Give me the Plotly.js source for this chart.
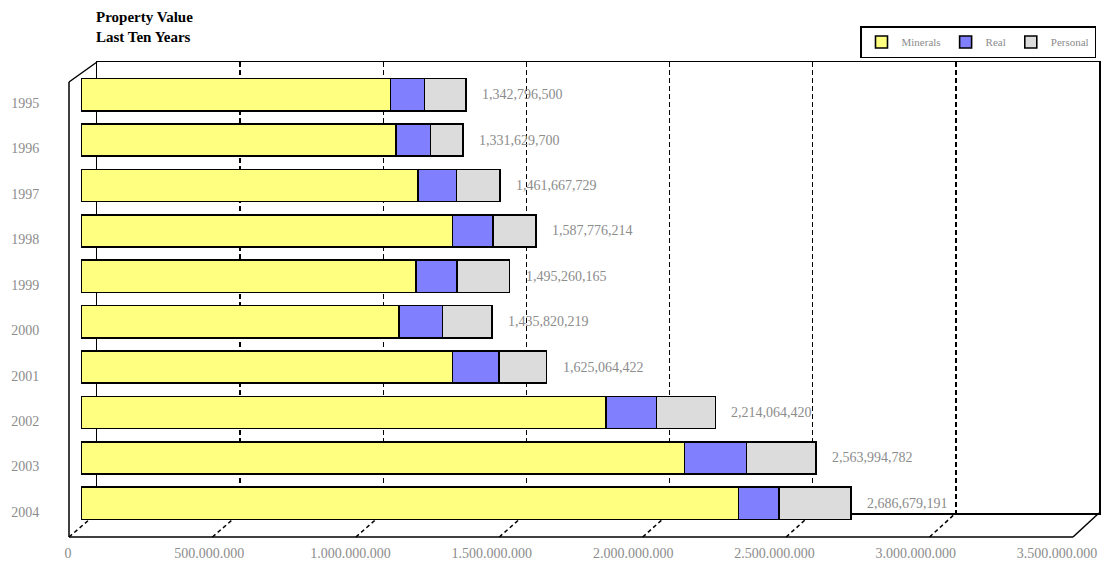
<!DOCTYPE html>
<html>
<head>
<meta charset="utf-8">
<script src="https://cdn.plot.ly/plotly-3.0.1.min.js"></script>
<style>html,body{margin:0;padding:0;background:#fff;}#chart{width:1113px;height:561px;}</style>
</head>
<body>
<div id="chart"></div>
<script>
// ---- data ----
const years = ['1995','1996','1997','1998','1999','2000','2001','2002','2003','2004'];
const minerals = [1080000000, 1100000000, 1177000000, 1296000000, 1170000000, 1109000000, 1296000000, 1832000000, 2106000000, 2294000000];
const real     = [ 119000000,  120000000,  133000000,  141000000,  141000000,  153000000,  162000000,  176000000,  216000000,  141000000];
const personal = [ 144000000,  112000000,  152000000,  151000000,  184000000,  173000000,  167000000,  206000000,  242000000,  252000000];
const totals   = [1342796500, 1331629700, 1461667729, 1587776214, 1495260165, 1435820219, 1625064422, 2214064420, 2563994782, 2686679191];
const totalLabels = ['1,342,796,500','1,331,629,700','1,461,667,729','1,587,776,214','1,495,260,165','1,435,820,219','1,625,064,422','2,214,064,420','2,563,994,782','2,686,679,191'];
const tickValues = [0, 500000000, 1000000000, 1500000000, 2000000000, 2500000000, 3000000000, 3500000000];
const tickLabels = ['0','500.000.000','1.000.000.000','1.500.000.000','2.000.000.000','2.500.000.000','3.000.000.000','3.500.000.000'];
const seriesNames = ['Minerals','Real','Personal'];
const seriesColors = ['#FFFF80','#8080FF','#DCDCDC'];
const xMax = 3500000000;

// ---- layout helpers (pixel -> paper) ----
const L = 60, R = 13, T = 62, B = 24, W = 1113, H = 561;
const PW = W - L - R, PH = H - T - B;
const px = v => (v - L) / PW;
const py = v => (H - B - v) / PH;

const serif = 'Liberation Serif, Times New Roman, serif';
const grey = '#8c8c8c';

const seriesData = [minerals, real, personal];
const traces = seriesData.map((vals, i) => ({
  type: 'bar', orientation: 'h', name: seriesNames[i],
  x: vals, y: years, xaxis: 'x2', yaxis: 'y2',
  marker: {color: seriesColors[i], line: {color: '#000', width: 1.6}},
  hoverinfo: 'skip'
}));
// dummy traces to create wall and label subplots
traces.push({type:'scatter', x:[], y:[], xaxis:'x', yaxis:'y', mode:'none', showlegend:false, hoverinfo:'skip'});
traces.push({type:'scatter', x:[], y:[], xaxis:'x3', yaxis:'y3', mode:'none', showlegend:false, hoverinfo:'skip'});

// frame shapes
const line = (x0,y0,x1,y1,dash) => ({type:'line', xref:'paper', yref:'paper', layer:'below',
  x0:px(x0), y0:py(y0), x1:px(x1), y1:py(y1), line:{color:'#000', width:1.5, dash: dash || 'solid'}});
const shapes = [
  line(69,82,69,537),
  line(69,537,1073,537),
  line(69,82,97,62),
  line(1073,537,1099,513)
];
tickValues.forEach(v => {
  const fx = 69 + v * (1073 - 69) / xMax;
  const bx = 97 + v * (1099 - 97) / xMax;
  if (v < xMax) shapes.push(line(fx,537,bx,513,'4px,3px'));
});

// total labels: y given as category index on the category axis
const annotations = years.map((yr, i) => ({
  xref:'x2', yref:'y2', x: totals[i], y: i, text: totalLabels[i],
  xanchor:'left', xshift: 14, showarrow:false,
  font:{family: serif, size: 14, color: grey}
}));

const layout = {
  width: W, height: H,
  margin: {l: L, r: R, t: T, b: B},
  paper_bgcolor: '#fff', plot_bgcolor: 'rgba(0,0,0,0)',
  barmode: 'stack', bargap: 0.29,
  title: {text: '<b>Property Value<br>Last Ten Years</b>', font:{family: serif, size: 15, color:'#000'},
          x: 96/W, xref:'container', xanchor:'left', y: 1 - 22/H, yref:'container', yanchor:'top'},
  showlegend: true,
  legend: {orientation:'h', x: px(1096), xanchor:'right', y: py(26), yanchor:'top',
           bordercolor:'#000', borderwidth:1.5, bgcolor:'#fff',
           font:{family: serif, size: 11, color: grey}, traceorder:'normal'},
  // back wall
  xaxis: {domain:[px(97), px(1099)], range:[0, xMax], tickvals: tickValues, showticklabels:false,
          ticks:'', showgrid:true, gridcolor:'#000', gridwidth:1.5, griddash:'5px,3px',
          showline:true, mirror:true, linecolor:'#000', linewidth:1.5, zeroline:false, anchor:'y', fixedrange:true},
  yaxis: {domain:[py(513), py(62)], range:[0,1], showticklabels:false, ticks:'', showgrid:false,
          showline:true, mirror:true, linecolor:'#000', linewidth:1.5, zeroline:false, anchor:'x', fixedrange:true},
  // bars
  xaxis2: {domain:[px(81), px(1084)], range:[0, xMax], visible:false, anchor:'y2', fixedrange:true},
  yaxis2: {domain:[py(526), py(72)], type:'category', categoryarray: years, categoryorder:'array',
           range:[years.length - 0.5, -0.5], autorange:false, visible:false, anchor:'x2', fixedrange:true},
  // front-plane labels
  xaxis3: {domain:[px(68), px(1057)], range:[0, xMax], tickvals: tickValues, ticktext: tickLabels,
           ticks:'outside', ticklen: 5, tickcolor:'rgba(0,0,0,0)', showline:false, showgrid:false, zeroline:false,
           tickfont:{family: serif, size: 14, color: grey}, anchor:'y3', fixedrange:true},
  yaxis3: {domain:[py(534.7), py(80.3)], range:[years.length - 0.5, -0.5], tickvals: years.map((y,i)=>i), ticktext: years,
           ticks:'outside', ticklen: 25, tickcolor:'rgba(0,0,0,0)', showline:false, showgrid:false, zeroline:false,
           tickfont:{family: serif, size: 14, color: grey}, anchor:'x3', fixedrange:true},
  shapes: shapes,
  annotations: annotations
};

Plotly.newPlot('chart', traces, layout, {displayModeBar:false, staticPlot:true});
</script>
</body>
</html>
